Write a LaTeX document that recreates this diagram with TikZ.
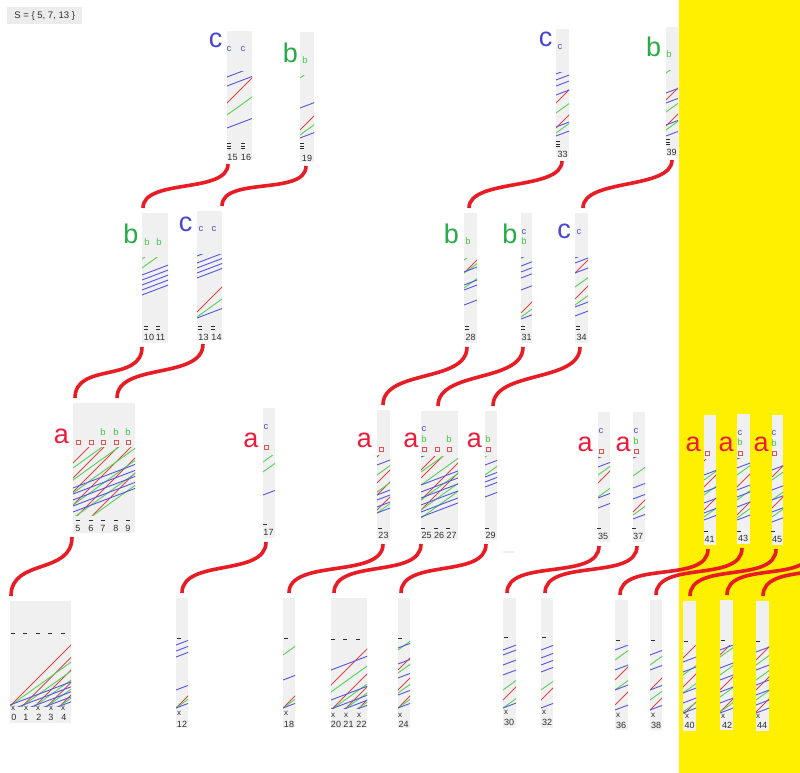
\documentclass[tikz,border=0pt]{standalone}
\usepackage{fontspec}
\setmainfont{Liberation Sans}
\definecolor{boxgray}{RGB}{240,240,240}
\definecolor{ylw}{RGB}{255,240,0}
\definecolor{connred}{RGB}{232,28,36}
\definecolor{bigred}{RGB}{236,28,60}
\definecolor{biggreen}{RGB}{40,170,70}
\definecolor{bigblue}{RGB}{70,70,210}
\definecolor{rayred}{RGB}{225,70,70}
\definecolor{raygreen}{RGB}{85,210,85}
\definecolor{rayblue}{RGB}{85,85,225}
\definecolor{mkc}{RGB}{80,80,215}
\definecolor{mkb}{RGB}{70,200,70}
\definecolor{mksq}{RGB}{220,85,85}
\definecolor{numgray}{RGB}{45,45,45}
\definecolor{labgray}{RGB}{236,236,236}
\newcount\nodecnt
\tikzset{
 gbox/.style={fill=boxgray, draw=none, inner sep=0pt, outer sep=0pt, anchor=north west},
 conn/.style={draw=connred, line width=3.6pt},
 bigl/.style={font=\fontsize{27}{27}\selectfont, inner sep=0pt, anchor=base},
 num/.style={font=\fontsize{9}{9}\selectfont, text=numgray, inner sep=0pt},
 xm/.style={font=\fontsize{8}{8}\selectfont, text=numgray, inner sep=0pt},
 smc/.style={font=\fontsize{9.5}{9.5}\selectfont, text=mkc, inner sep=0pt},
 smb/.style={font=\fontsize{9.5}{9.5}\selectfont, text=mkb, inner sep=0pt},
 sq/.style={draw=mksq, line width=0.9pt},
 rl/.style={draw=rayred, line width=0.9pt},
 gl/.style={draw=raygreen, line width=0.9pt},
 bll/.style={draw=rayblue, line width=0.9pt},
}
\newcommand\gb[5]{\node[gbox, minimum width={(#4-#2)*1pt}, minimum height={(#5-#3)*1pt}] (#1) at (#2,#3) {};}
\newcommand\rays[7]{\begin{scope}\clip (#1,#3) rectangle (#2,#4);
 \foreach \yy in {#5}{\draw[rl] (#1,\yy) -- ++(80,-80);}
 \foreach \yy in {#6}{\draw[gl] (#1,\yy) -- ++(80,-57.6);}
 \foreach \yy in {#7}{\draw[bll] (#1,\yy) -- ++(80,-30.4);}
 \end{scope}}
\newcommand\tnum[3]{\global\advance\nodecnt by 1\relax\node[num] (t\the\nodecnt) at (#1,#2) {#3};}
\newcommand\tx[2]{\global\advance\nodecnt by 1\relax\node[xm] (x\the\nodecnt) at (#1,#2) {x};}
\newcommand\mc[2]{\global\advance\nodecnt by 1\relax\node[smc] (c\the\nodecnt) at (#1,#2) {c};}
\newcommand\mb[2]{\global\advance\nodecnt by 1\relax\node[smb] (b\the\nodecnt) at (#1,#2) {b};}
\newcommand\msq[2]{\draw[sq] (#1-2,#2-2) rectangle (#1+2,#2+2);}
\newcommand\dA[2]{\fill[numgray] (#1-1.6,#2-0.5) rectangle (#1+1.6,#2+0.5);}
\newcommand\dtwo[2]{\dA{#1}{#2-1.6}\dA{#1}{#2+1.6}}
\newcommand\dthree[2]{\dA{#1}{#2-2.8}\dA{#1}{#2}\dA{#1}{#2+2.8}}
\newcommand\bigletter[4]{\global\advance\nodecnt by 1\relax\node[bigl, text=#3] (L\the\nodecnt) at (#1,#2) {#4};}
\newcommand\cnx[5]{\draw[conn] ([xshift=#2pt,yshift=-4pt]#1.south west) .. controls +(0,#5) and +(0,-#5) .. ([xshift=#4pt,yshift=5pt]#3.north west);}
\begin{document}
\begin{tikzpicture}[x=1pt,y=-1pt]
\useasboundingbox (0,0) rectangle (800,773);
\clip (0,0) rectangle (800,773);
\fill[white] (0,0) rectangle (800,773);
\fill[ylw] (679,0) rectangle (800,773);
\node[fill=labgray, inner sep=0pt, minimum width=75pt, minimum height=17pt, anchor=north west, font=\fontsize{9.5}{9.5}\selectfont, text=numgray] (S) at (7,7) {S = \{ 5, 7, 13 \}};
% boxes row 1
\gb{n15}{227}{31}{252}{160}
\gb{n19}{300}{32}{314}{162}
\gb{n33}{556}{29}{569}{157}
\gb{n39}{666}{27}{678}{156}
% row 2
\gb{n10}{142}{213}{168}{343}
\gb{n13}{197}{211}{222}{340}
\gb{n28}{464}{213}{477}{343}
\gb{n31}{521}{213}{532}{343}
\gb{n34}{575}{213}{588}{343}
% row 3
\gb{n5}{73}{403}{135}{533}
\gb{n17}{263}{408}{275}{538}
\gb{n23}{377}{410}{390}{540}
\gb{n25}{421}{411}{458}{540}
\gb{n29}{485}{411}{497}{540}
\gb{n35}{598}{412}{610}{542}
\gb{n37}{633}{412}{645}{542}
\gb{n41}{704}{415}{716}{545}
\gb{n43}{737}{414}{750}{544}
\gb{n45}{772}{415}{783}{545}
% row 4
\gb{n0}{10}{601}{71}{723}
\gb{n12}{176}{598}{188}{728}
\gb{n18}{283}{598}{295}{728}
\gb{n20}{331}{598}{367}{728}
\gb{n24}{398}{598}{410}{728}
\gb{n30}{503}{598}{516}{728}
\gb{n32}{541}{598}{553}{728}
\gb{n36}{615}{600}{628}{730}
\gb{n38}{650}{600}{662}{730}
\gb{n40}{683}{601}{696}{731}
\gb{n42}{720}{600}{733}{730}
\gb{n44}{756}{601}{769}{731}
\fill[boxgray] (503,551) rectangle (515,553);
% rays
\rays{227}{252}{72}{140}{103}{115}{77,86,128}
\rays{300}{314}{76}{140}{130}{78,135}{108,138}
\rays{556}{569}{73}{140}{103,128}{113,133}{74,80,86,95,127,136}
\rays{666}{678}{71}{140}{100,126}{73,112,130}{93,103,125,136}
\rays{142}{168}{257}{320}{999}{259,268}{275,280,285,290,295}
\rays{197}{222}{254}{330}{312}{317}{256,263,268,273,278,318}
\rays{464}{477}{258}{320}{273}{260,273,288}{272,285,290,305}
\rays{521}{532}{257}{325}{313}{317}{258,266,272,278,290,319}
\rays{575}{588}{257}{320}{273,299}{287,305}{258,263,273,307,316}
\rays{73}{135}{447}{515}{463,478,492,505,520,535}{468,480,493,505,518,530}{488,494,500,506,512}
\rays{263}{275}{455}{520}{999}{462,472}{495}
\rays{377}{390}{455}{520}{457,483,495,510}{475,492,513}{465,495,500,507,513}
\rays{421}{458}{456}{520}{470,478,500,510}{472,485,500,510,518}{457,485,492,498,505,512,517}
\rays{485}{497}{456}{520}{999}{457,475}{465,477,482,487,497}
\rays{598}{610}{457}{520}{483}{475,497}{458,467,498,508}
\rays{633}{645}{457}{522}{512}{476,515}{458,488,499,519}
\rays{704}{716}{459}{525}{461,487,510}{480,495,517}{475,492,503,513,520}
\rays{737}{750}{458}{525}{487,515}{475,500,518}{459,468,490,497,507,520}
\rays{772}{783}{459}{525}{477,508}{480,500,517}{470,490,500,512,522}
\rays{10}{71}{640}{706}{706,718.5,731,743.5,756}{706,715,724,733,742}{705,710,715,720,725}
\rays{176}{188}{636}{708}{708}{708}{645,651,657,690,708}
\rays{283}{295}{636}{708}{708}{655,708}{680,708}
\rays{331}{367}{640}{708}{685,710,723,736}{692,710,719,728}{670,700,709,714,719}
\rays{398}{410}{640}{708}{670,690,708}{650,673,693,708}{648,664,678,695,708}
\rays{503}{516}{640}{708}{700}{690,708}{650,655,665,675,708}
\rays{541}{553}{640}{708}{700}{690}{650,658,665,672,708}
\rays{615}{628}{645}{712}{680,705}{660,690}{650,670,690,710}
\rays{650}{662}{645}{712}{690,710}{665,700}{655,670,690,710}
\rays{683}{696}{645}{713}{658,687,715}{675,693,712}{662,672,693,703,713}
\rays{720}{733}{645}{714}{655,690,712}{657,675,697,712}{650,668,680,692,703,713}
\rays{756}{769}{645}{714}{660,690,712}{665,680,700}{652,670,685,695,705,713}
% big letters
\bigletter{215.5}{48}{bigblue}{c}
\bigletter{290.5}{63}{biggreen}{b}
\bigletter{545.5}{47}{bigblue}{c}
\bigletter{653.5}{57}{biggreen}{b}
\bigletter{131}{243}{biggreen}{b}
\bigletter{185.5}{231}{bigblue}{c}
\bigletter{451.5}{243}{biggreen}{b}
\bigletter{510}{243}{biggreen}{b}
\bigletter{564}{238}{bigblue}{c}
\bigletter{61.5}{443}{bigred}{a}
\bigletter{251}{447}{bigred}{a}
\bigletter{364.5}{447}{bigred}{a}
\bigletter{411}{447}{bigred}{a}
\bigletter{474.5}{447}{bigred}{a}
\bigletter{585}{451}{bigred}{a}
\bigletter{623}{451}{bigred}{a}
\bigletter{693}{451}{bigred}{a}
\bigletter{726}{451}{bigred}{a}
\bigletter{761}{451}{bigred}{a}
% small markers
\mc{229}{49}\mc{243}{49}\mc{560}{47}\mc{201}{229}\mc{214}{229}\mc{524}{232}\mc{579}{232}
\mc{266}{427}\mc{424}{429}\mc{601}{431}\mc{636}{431}\mc{740}{433}\mc{774}{433}
\mb{305}{60}\mb{669}{54}\mb{147}{242}\mb{159}{242}\mb{468}{241}\mb{524}{241}
\mb{103}{432}\mb{116}{432}\mb{128}{432}\mb{424}{439}\mb{449}{439}\mb{488}{439}
\mb{636}{441}\mb{740}{442}\mb{774}{443}
\msq{78}{442}\msq{91}{442}\msq{103}{442}\msq{116}{442}\msq{128}{442}
\msq{266}{447}\msq{381}{449}\msq{424}{449}\msq{437}{449}\msq{449}{449}\msq{488}{449}
\msq{601}{451}\msq{636}{451}\msq{707}{453}\msq{740}{453}\msq{774}{453}
% row 1 numbers
\tnum{232.5}{157}{15}\tnum{246}{157}{16}\dthree{229}{146}\dthree{243}{146}
\tnum{307}{158}{19}\dthree{302}{146}
\tnum{562.5}{154}{33}\dthree{558}{144}
\tnum{671.5}{152}{39}\dthree{668}{142}
% row 2 numbers
\tnum{149}{337}{10}\tnum{160.5}{337}{11}\dtwo{146}{328}\dtwo{158}{328}
\tnum{203.5}{337}{13}\tnum{216.5}{337}{14}\dtwo{200}{328}\dtwo{213}{328}
\tnum{470.5}{337}{28}\dtwo{467}{328}
\tnum{526.5}{337}{31}\dtwo{523}{328}
\tnum{581.5}{337}{34}\dtwo{578}{328}
% row 3 numbers
\tnum{78}{528}{5}\tnum{91}{528}{6}\tnum{103}{528}{7}\tnum{116}{528}{8}\tnum{128}{528}{9}
\dA{78}{520}\dA{91}{520}\dA{103}{520}\dA{116}{520}\dA{128}{520}
\tnum{268.5}{532}{17}\dA{265}{524}
\tnum{383.5}{535}{23}\dA{380}{528}
\tnum{426.5}{535}{25}\tnum{439}{535}{26}\tnum{451.5}{535}{27}\dA{423}{528}\dA{436}{528}\dA{448}{528}
\tnum{490.5}{535}{29}\dA{487}{528}
\tnum{603}{536}{35}\dA{599}{528}
\tnum{638}{536}{37}\dA{634}{528}
\tnum{709.5}{539}{41}\dA{706}{531}
\tnum{743}{538}{43}\dA{739}{531}
\tnum{777}{539}{45}\dA{773}{531}
% row 4 numbers
\tnum{14}{717}{0}\tnum{26}{717}{1}\tnum{39}{717}{2}\tnum{51}{717}{3}\tnum{64}{717}{4}
\tx{13}{708}\tx{26}{708}\tx{38}{708}\tx{51}{708}\tx{63}{708}
\dA{13}{633}\dA{25}{633}\dA{38}{633}\dA{50}{633}\dA{63}{633}
\tnum{182}{724}{12}\tx{179}{713}\dA{179}{638}
\tnum{289}{724}{18}\tx{286}{713}\dA{286}{638}
\tnum{336}{724}{20}\tnum{348.5}{724}{21}\tnum{361.5}{724}{22}
\tx{333}{715}\tx{346}{715}\tx{359}{715}\dA{333}{639}\dA{345}{639}\dA{358}{639}
\tnum{403.5}{724}{24}\tx{400}{715}\dA{400}{638}
\tnum{509}{722}{30}\tx{506}{712}\dA{506}{637}
\tnum{547}{722}{32}\tx{544}{712}\dA{544}{637}
\tnum{621}{725}{36}\tx{618}{715}\dA{618}{640}
\tnum{656}{725}{38}\tx{653}{715}\dA{653}{640}
\tnum{689.5}{725}{40}\tx{687}{716}\dA{686}{641}
\tnum{727}{725}{42}\tx{723}{716}\dA{723}{640}
\tnum{762}{725}{44}\tx{758}{716}\dA{758}{641}
% connectors
\cnx{n15}{1}{n10}{1}{30}
\cnx{n19}{6}{n13}{25}{30}
\cnx{n33}{6}{n28}{5}{30}
\cnx{n39}{6}{n34}{8}{30}
\cnx{n10}{0}{n5}{2}{36}
\cnx{n13}{6}{n5}{44}{36}
\cnx{n28}{3}{n23}{6}{36}
\cnx{n31}{2}{n25}{17}{36}
\cnx{n34}{5}{n29}{8}{36}
\cnx{n5}{-1}{n0}{1}{38}
\cnx{n17}{3}{n12}{6}{35}
\cnx{n23}{6}{n18}{6}{35}
\cnx{n25}{0}{n20}{3}{35}
\cnx{n29}{1}{n24}{3}{35}
\cnx{n35}{1}{n30}{4}{35}
\cnx{n37}{4}{n32}{4}{35}
\cnx{n41}{4}{n36}{5}{35}
\cnx{n43}{5}{n38}{6}{35}
\cnx{n45}{4}{n40}{7}{35}
\coordinate (off47) at (811,549);
\coordinate (off49) at (846,549);
\draw[conn] (off47) .. controls +(0,35) and +(0,-35) .. ([xshift=7pt,yshift=5pt]n42.north west);
\draw[conn] (off49) .. controls +(0,35) and +(0,-35) .. ([xshift=7pt,yshift=5pt]n44.north west);
\end{tikzpicture}
\end{document}
